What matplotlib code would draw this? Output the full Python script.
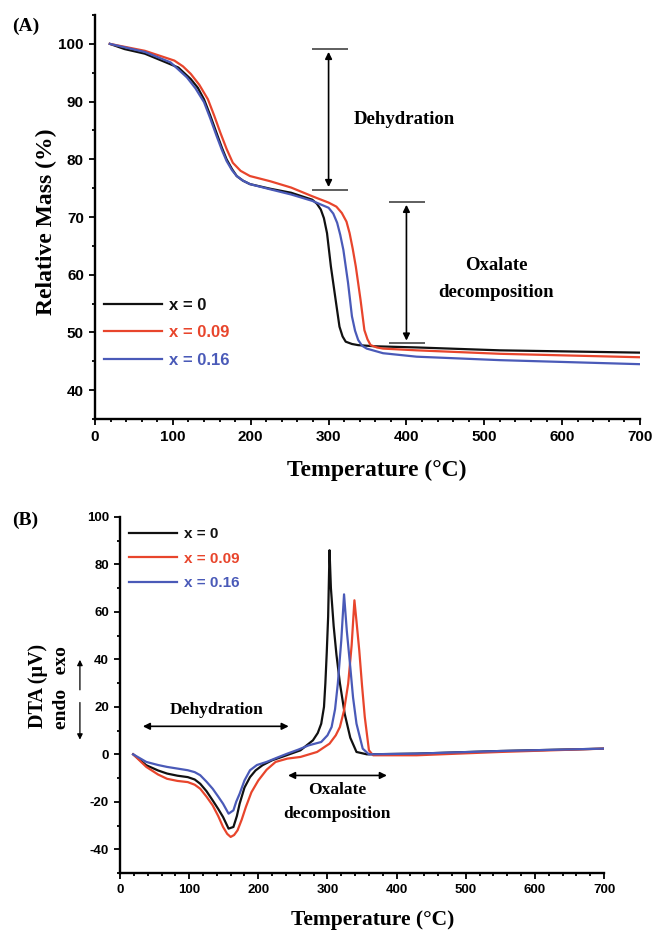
import numpy as np
import matplotlib.pyplot as plt
from matplotlib.ticker import MultipleLocator

plt.rcParams['axes.unicode_minus'] = False

# TGA data (panel A): temperature [C], relative mass [%]
t_a0 = [19, 38, 64, 91, 107, 123, 132, 140, 148, 156, 163, 169, 176, 182, 190, 199, 225, 252, 279, 285, 290, 294, 298, 303, 309, 314, 318, 322, 330, 338, 360, 413, 520, 700]
m_a0 = [100, 99.1, 98.3, 96.8, 95.9, 93.9, 92.4, 90.4, 87.6, 84.6, 82.0, 80.0, 78.3, 77.1, 76.3, 75.7, 74.9, 74.2, 73.0, 72.3, 71.3, 69.8, 67.2, 61.4, 55.7, 51.0, 49.3, 48.4, 48.0, 47.8, 47.6, 47.4, 46.9, 46.5]

t_a9 = [19, 64, 102, 113, 123, 134, 145, 153, 161, 169, 177, 187, 199, 225, 252, 279, 300, 310, 317, 323, 327, 331, 335, 341, 346, 350, 354, 362, 370, 413, 520, 700]
m_a9 = [100, 98.8, 97.1, 96.1, 94.8, 92.9, 90.4, 87.6, 84.6, 81.8, 79.4, 78.0, 77.1, 76.2, 75.1, 73.6, 72.5, 71.8, 70.7, 69.2, 67.2, 64.5, 61.4, 55.7, 50.4, 48.8, 47.8, 47.4, 47.2, 46.9, 46.3, 45.7]

t_a16 = [19, 64, 97, 118, 129, 140, 148, 156, 163, 169, 176, 182, 190, 199, 225, 252, 279, 300, 306, 311, 315, 319, 325, 330, 334, 338, 343, 349, 370, 413, 520, 700]
m_a16 = [100, 98.6, 96.8, 94.2, 92.3, 89.9, 87.1, 84.1, 81.6, 79.7, 78.1, 77.1, 76.3, 75.7, 74.8, 73.9, 72.8, 71.6, 70.6, 69.0, 66.9, 64.3, 58.6, 52.8, 50.3, 48.7, 47.7, 47.2, 46.4, 45.8, 45.2, 44.5]

# DTA data (panel B): temperature [C], signal [uV]
t_b0 = [19, 38, 55, 68, 83, 98, 108, 116, 125, 134, 142, 149, 157, 164, 169, 173, 180, 188, 196, 206, 220, 237, 261, 279, 286, 291, 295, 297, 299, 301, 303, 305, 309, 313, 318, 325, 333, 342, 357, 429, 550, 700]
d_b0 = [0, -4.6, -6.8, -8.1, -9.0, -9.6, -10.6, -12.4, -15.5, -19.4, -23.0, -26.4, -31.3, -30.6, -26.0, -20.8, -14.0, -9.6, -6.8, -4.6, -2.5, -0.8, 1.7, 5.9, 9.0, 12.9, 20, 30, 43, 58, 86, 70, 54, 42, 30, 17, 7, 1, 0, 0.3, 1.4, 2.4]

t_b9 = [19, 38, 55, 68, 83, 98, 108, 116, 125, 134, 142, 149, 155, 160, 165, 170, 176, 182, 190, 200, 212, 225, 242, 261, 285, 303, 312, 318, 324, 330, 335, 339, 342, 346, 350, 354, 360, 366, 429, 550, 700]
d_b9 = [0, -5.3, -8.5, -10.3, -11.2, -11.7, -12.8, -14.5, -17.8, -21.5, -26.0, -30.6, -33.5, -34.8, -34.0, -32, -27.5, -22.2, -16.0, -11, -6.5, -3.2, -1.8, -1.1, 1, 4.5, 8.0, 11.5, 18.5, 29.8, 46, 64.9, 56, 43.8, 29, 15.7, 1.7, -0.4, -0.4, 1, 2.4]

t_b16 = [19, 38, 55, 68, 83, 98, 108, 116, 125, 134, 142, 149, 157, 164, 168, 173, 180, 188, 198, 212, 228, 242, 258, 273, 291, 300, 306, 311, 315, 320, 324, 328, 333, 337, 342, 351, 360, 429, 550, 700]
d_b16 = [0, -3.2, -4.5, -5.3, -6.0, -6.7, -7.5, -8.8, -11.5, -14.5, -17.8, -20.8, -25, -23.6, -20.0, -16.6, -11.0, -6.7, -4.5, -3.2, -1.3, 0.3, 2.0, 3.8, 5.2, 8.0, 11.5, 19.0, 29.8, 48, 67.4, 52, 36.8, 24, 12.9, 2.4, 0, 0.3, 1.4, 2.4]

labels = ['x = 0', 'x = 0.09', 'x = 0.16']
colors = ['#111111', '#e8452c', '#4a5ab8']

serif = 'Liberation Serif'
sans = 'Liberation Sans'

fig = plt.figure(figsize=(6.53, 9.33), dpi=100)
axA = fig.add_axes([0.1455, 0.5509, 0.8346, 0.4330])
axB = fig.add_axes([0.1838, 0.0643, 0.7412, 0.3816])


def style_axis(ax, size):
    for s in ['top', 'right']:
        ax.spines[s].set_visible(False)
    for s in ['left', 'bottom']:
        ax.spines[s].set_linewidth(1.7)
    ax.tick_params(which='major', direction='out', length=4.5, width=1.3, labelsize=size)
    ax.tick_params(which='minor', direction='out', length=2.5, width=1.3)
    for lab in ax.get_xticklabels() + ax.get_yticklabels():
        lab.set_fontfamily(sans)
        lab.set_fontweight('bold')


# panel A
for t, m, c, lab in zip([t_a0, t_a9, t_a16], [m_a0, m_a9, m_a16], colors, labels):
    axA.plot(t, m, color=c, lw=1.6, label=lab)
axA.set_xlim(0, 700)
axA.set_ylim(35, 105)
axA.set_xticks(np.arange(0, 701, 100))
axA.set_yticks(np.arange(40, 101, 10))
axA.xaxis.set_minor_locator(MultipleLocator(20))
axA.yaxis.set_minor_locator(MultipleLocator(5))
style_axis(axA, 11)

leg = axA.legend(loc='upper left', bbox_to_anchor=(0.0165, 0.300), frameon=False,
                 handlelength=3.5, handletextpad=0.4, labelspacing=0.75,
                 borderpad=0, borderaxespad=0,
                 prop={'family': sans, 'weight': 'bold', 'size': 12})
for txt, c in zip(leg.get_texts(), colors):
    txt.set_color(c)

# dehydration / oxalate arrows
axA.hlines([99.1, 74.7], 279, 325, color='#333333', lw=1.1)
axA.annotate('', xy=(300, 99.1), xytext=(300, 74.7),
             arrowprops=dict(arrowstyle='<|-|>', color='black', lw=1.2, mutation_scale=10))
axA.text(397, 86.9, 'Dehydration', family=serif, weight='bold', fontsize=13.5,
         ha='center', va='center')
axA.hlines([72.6, 48.1], 378, 424, color='#333333', lw=1.1)
axA.annotate('', xy=(400, 72.6), xytext=(400, 48.1),
             arrowprops=dict(arrowstyle='<|-|>', color='black', lw=1.2, mutation_scale=10))
axA.text(515, 61.6, 'Oxalate', family=serif, weight='bold', fontsize=13.5,
         ha='center', va='center')
axA.text(515, 56.9, 'decomposition', family=serif, weight='bold', fontsize=13.5,
         ha='center', va='center')

# panel B
for t, d, c, lab in zip([t_b0, t_b9, t_b16], [d_b0, d_b9, d_b16], colors, labels):
    axB.plot(t, d, color=c, lw=1.6, label=lab)
axB.set_xlim(0, 700)
axB.set_ylim(-50, 100)
axB.set_xticks(np.arange(0, 701, 100))
axB.set_yticks(np.arange(-40, 101, 20))
axB.xaxis.set_minor_locator(MultipleLocator(20))
axB.yaxis.set_minor_locator(MultipleLocator(10))
style_axis(axB, 9.5)

legB = axB.legend(loc='upper left', bbox_to_anchor=(0.019, 0.972), frameon=False,
                  handlelength=3.1, handletextpad=0.5, labelspacing=0.7,
                  borderpad=0, borderaxespad=0,
                  prop={'family': sans, 'weight': 'bold', 'size': 11})
for txt, c in zip(legB.get_texts(), colors):
    txt.set_color(c)

axB.annotate('', xy=(29, 11.8), xytext=(248, 11.8),
             arrowprops=dict(arrowstyle='<|-|>', color='black', lw=1.2, mutation_scale=10))
axB.text(140, 18.6, 'Dehydration', family=serif, weight='bold', fontsize=12.5,
         ha='center', va='center')
axB.annotate('', xy=(239, -8.9), xytext=(390, -8.9),
             arrowprops=dict(arrowstyle='<|-|>', color='black', lw=1.2, mutation_scale=10))
axB.text(314, -15.2, 'Oxalate', family=serif, weight='bold', fontsize=12.5,
         ha='center', va='center')
axB.text(314, -25, 'decomposition', family=serif, weight='bold', fontsize=12.5,
         ha='center', va='center')

# endo / exo arrows left of the axis
axB.annotate('', xy=(-58, 41), xytext=(-58, 26), annotation_clip=False,
             arrowprops=dict(arrowstyle='-|>', color='black', lw=0.9, mutation_scale=8))
axB.annotate('', xy=(-58, 5), xytext=(-58, 23), annotation_clip=False,
             arrowprops=dict(arrowstyle='-|>', color='black', lw=0.9, mutation_scale=8))

# labels
fig.text(46 / 653, 1 - 222 / 933, 'Relative Mass (%)', family=serif, weight='bold',
         fontsize=17, rotation=90, ha='center', va='center')
fig.text(377 / 653, 1 - 470 / 933, 'Temperature (\u00b0C)', family=serif, weight='bold',
         fontsize=17, ha='center', va='center')
fig.text(26 / 653, 1 - 26 / 933, '(A)', family=serif, weight='bold', fontsize=14,
         ha='center', va='center')
fig.text(25 / 653, 1 - 520 / 933, '(B)', family=serif, weight='bold', fontsize=14,
         ha='center', va='center')
fig.text(38 / 653, 1 - 686 / 933, 'DTA (\u03bcV)', family=serif, weight='bold',
         fontsize=14.5, rotation=90, ha='center', va='center')
fig.text(62 / 653, 1 - 688 / 933, 'endo   exo', family=serif, weight='bold',
         fontsize=14, rotation=90, ha='center', va='center')
fig.text(373 / 653, 1 - 920 / 933, 'Temperature (\u00b0C)', family=serif, weight='bold',
         fontsize=15.5, ha='center', va='center')

fig.savefig('out.png', dpi=100)
